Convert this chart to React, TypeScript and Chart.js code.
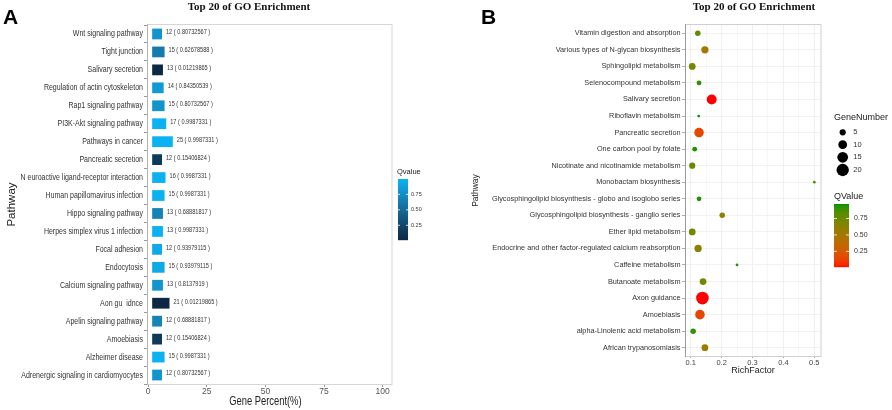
import React, { useEffect, useRef } from "react";
import { Chart, registerables } from "chart.js";
Chart.register(...registerables);

// ---------------- Panel A data ----------------
const pathwaysA = [
  "Wnt signaling pathway",
  "Tight junction",
  "Salivary secretion",
  "Regulation of actin cytoskeleton",
  "Rap1 signaling pathway",
  "PI3K-Akt signaling pathway",
  "Pathways in cancer",
  "Pancreatic secretion",
  "N euroactive ligand-receptor interaction",
  "Human papillomavirus infection",
  "Hippo signaling pathway",
  "Herpes simplex virus 1 infection",
  "Focal adhesion",
  "Endocytosis",
  "Calcium signaling pathway",
  "Aon gu  idnce",
  "Apelin signaling pathway",
  "Amoebiasis",
  "Alzheimer disease",
  "Adrenergic signaling in cardiomyocytes",
];
const geneCountA = [12, 15, 13, 14, 15, 17, 25, 12, 16, 15, 13, 13, 12, 15, 13, 21, 12, 12, 15, 12];
const genePercentA = [5.9, 7.0, 6.3, 6.6, 7.0, 7.7, 10.5, 5.9, 7.4, 7.0, 6.3, 6.3, 5.9, 7.0, 6.3, 9.1, 5.9, 5.9, 7.0, 5.9];
const qValueA = [
  0.80732567, 0.62678588, 0.01219865, 0.84350539, 0.80732567, 0.9987331, 0.9987331, 0.15406824,
  0.9987331, 0.9987331, 0.68881817, 0.9987331, 0.93979115, 0.93979115, 0.8137919, 0.01219865,
  0.68881817, 0.15406824, 0.9987331, 0.80732567,
];
const xTickStepA = 25;
const qLegendTicks = [0.25, 0.5, 0.75];

// ---------------- Panel B data ----------------
const pathwaysB = [
  "Vitamin digestion and absorption",
  "Various types of N-glycan biosynthesis",
  "Sphingolipid metabolism",
  "Selenocompound metabolism",
  "Salivary secretion",
  "Riboflavin metabolism",
  "Pancreatic secretion",
  "One carbon pool by folate",
  "Nicotinate and nicotinamide metabolism",
  "Monobactam biosynthesis",
  "Glycosphingolipid biosynthesis - globo and isoglobo series",
  "Glycosphingolipid biosynthesis - ganglio series",
  "Ether lipid metabolism",
  "Endocrine and other factor-regulated calcium reabsorption",
  "Caffeine metabolism",
  "Butanoate metabolism",
  "Axon guidance",
  "Amoebiasis",
  "alpha-Linolenic acid metabolism",
  "African trypanosomiasis",
];
const richFactorB = [0.123, 0.146, 0.105, 0.127, 0.168, 0.126, 0.127, 0.113, 0.105, 0.5, 0.127, 0.202, 0.105, 0.124, 0.25, 0.14, 0.138, 0.13, 0.108, 0.146];
const geneNumberB = [4, 7, 6, 3, 13, 1, 12, 3, 5, 1, 3, 4, 6, 7, 1, 6, 21, 12, 4, 6];
const qValueB = [0.8, 0.52, 0.72, 0.93, 0.01219865, 0.97, 0.15406824, 0.95, 0.78, 0.85, 0.95, 0.6, 0.74, 0.64, 0.95, 0.74, 0.01219865, 0.15406824, 0.92, 0.56];
const sizeLegendB = [5, 10, 15, 20];
const xTickStepB = 0.05;

// ---------------- colour helpers (Lab interpolation like ggplot) ----------------
function hexToRgb(h: string) {
  const n = parseInt(h.slice(1), 16);
  return [(n >> 16) & 255, (n >> 8) & 255, n & 255];
}
const toLin = (c: number) => { c /= 255; return c <= 0.04045 ? c / 12.92 : Math.pow((c + 0.055) / 1.055, 2.4); };
const toS = (c: number) => {
  const v = c <= 0.0031308 ? 12.92 * c : 1.055 * Math.pow(Math.max(c, 0), 1 / 2.4) - 0.055;
  return Math.max(0, Math.min(255, Math.round(v * 255)));
};
const Wn = [0.95047, 1, 1.08883];
function rgbToLab(rgb: number[]) {
  const [r, g, b] = rgb.map(toLin);
  const X = 0.4124 * r + 0.3576 * g + 0.1805 * b;
  const Y = 0.2126 * r + 0.7152 * g + 0.0722 * b;
  const Z = 0.0193 * r + 0.1192 * g + 0.9505 * b;
  const f = (t: number) => (t > 0.008856 ? Math.cbrt(t) : 7.787 * t + 16 / 116);
  const fx = f(X / Wn[0]), fy = f(Y / Wn[1]), fz = f(Z / Wn[2]);
  return [116 * fy - 16, 500 * (fx - fy), 200 * (fy - fz)];
}
function labToRgb(lab: number[]) {
  const [L, a, b] = lab;
  const fy = (L + 16) / 116, fx = a / 500 + fy, fz = fy - b / 200;
  const inv = (f: number) => (f * f * f > 0.008856 ? f * f * f : (f - 16 / 116) / 7.787);
  const X = inv(fx) * Wn[0], Y = inv(fy) * Wn[1], Z = inv(fz) * Wn[2];
  const r = 3.2406 * X - 1.5372 * Y - 0.4986 * Z;
  const g = -0.9689 * X + 1.8758 * Y + 0.0415 * Z;
  const bb = 0.0557 * X - 0.204 * Y + 1.057 * Z;
  return `rgb(${toS(r)},${toS(g)},${toS(bb)})`;
}
function makeRamp(low: string, high: string, vmin: number, vmax: number) {
  const l1 = rgbToLab(hexToRgb(low)), l2 = rgbToLab(hexToRgb(high));
  return (v: number) => {
    const t = Math.max(0, Math.min(1, (v - vmin) / (vmax - vmin)));
    return labToRgb([0, 1, 2].map((k) => l1[k] + (l2[k] - l1[k]) * t));
  };
}
const qMinA = Math.min(...qValueA), qMaxA = Math.max(...qValueA);
const rampA = makeRamp("#0D2843", "#0BB2F2", qMinA, qMaxA);
const qMinB = Math.min(...qValueB), qMaxB = Math.max(...qValueB);
const rampB = makeRamp("#FF0000", "#009400", qMinB, qMaxB);
const sizeToRadius = (n: number) => 1.38 * Math.sqrt(n);

const FONT = '"Liberation Sans", Arial, Helvetica, sans-serif';
const SERIF = '"Liberation Serif", "Times New Roman", serif';
Chart.defaults.font.family = FONT;

function drawColorbar(ctx: CanvasRenderingContext2D, ramp: (v: number) => string, vmin: number, vmax: number,
  x0: number, y0: number, w: number, h: number, labelX: number, fontPx: number) {
  for (let i = 0; i < h; i++) {
    const v = vmax - (i / h) * (vmax - vmin);
    ctx.fillStyle = ramp(v);
    ctx.fillRect(x0, y0 + i, w, 1.2);
  }
  ctx.font = `${fontPx}px ${FONT}`;
  ctx.textAlign = "left";
  ctx.textBaseline = "middle";
  qLegendTicks.forEach((t) => {
    const py = y0 + ((vmax - t) / (vmax - vmin)) * h;
    ctx.strokeStyle = "#ffffff";
    ctx.lineWidth = 0.8;
    ctx.beginPath();
    ctx.moveTo(x0, py); ctx.lineTo(x0 + w * 0.2, py);
    ctx.moveTo(x0 + w * 0.8, py); ctx.lineTo(x0 + w, py);
    ctx.stroke();
    ctx.fillStyle = "#333";
    ctx.fillText(t.toFixed(2), labelX, py);
  });
}

const panelAPlugin = {
  id: "panelA",
  afterDraw(chart: any) {
    const { ctx, chartArea: ca, scales } = chart;
    const y = scales.y, x = scales.x;
    ctx.save();
    // panel border
    ctx.strokeStyle = "#d6d6d6";
    ctx.lineWidth = 1;
    ctx.strokeRect(ca.left + 0.5, ca.top - 0.5, ca.right - ca.left - 0.5, ca.bottom - ca.top + 1);
    ctx.strokeStyle = "#b4b4b4";
    ctx.beginPath();
    ctx.moveTo(ca.left + 0.5, ca.top - 1);
    ctx.lineTo(ca.left + 0.5, ca.bottom + 1);
    ctx.stroke();
    // y labels (narrow)
    ctx.fillStyle = "#333";
    ctx.font = `9px ${FONT}`;
    ctx.textAlign = "right";
    ctx.textBaseline = "middle";
    pathwaysA.forEach((name, i) => {
      const py = y.getPixelForValue(i);
      ctx.save();
      ctx.translate(ca.left - 4, py);
      ctx.scale(0.78, 1);
      ctx.fillText(name, 0, 0);
      ctx.restore();
    });
    // value labels
    const meta = chart.getDatasetMeta(0);
    ctx.font = `7px ${FONT}`;
    ctx.textAlign = "left";
    meta.data.forEach((bar: any, i: number) => {
      ctx.save();
      ctx.translate(bar.x + 4, bar.y - 1.5);
      ctx.scale(0.8, 1);
      ctx.fillText(`${geneCountA[i]} ( ${qValueA[i]} )`, 0, 0);
      ctx.restore();
    });
    // x title
    ctx.fillStyle = "#222";
    ctx.font = `12px ${FONT}`;
    ctx.textAlign = "center";
    ctx.save();
    ctx.translate(x.getPixelForValue(50), 401.5);
    ctx.scale(0.78, 1);
    ctx.fillText("Gene Percent(%)", 0, 0);
    ctx.restore();
    // title
    ctx.fillStyle = "#111";
    ctx.font = `bold 11px ${SERIF}`;
    ctx.textAlign = "center";
    ctx.fillText("Top 20 of GO Enrichment", 249, 7);
    // panel letter
    ctx.fillStyle = "#000";
    ctx.font = `bold 21px ${FONT}`;
    ctx.textAlign = "left";
    ctx.textBaseline = "alphabetic";
    ctx.fillText("A", 3, 23.5);
    // colour legend
    ctx.fillStyle = "#222";
    ctx.font = `7.5px ${FONT}`;
    ctx.textBaseline = "middle";
    ctx.fillText("Qvalue", 397, 172);
    drawColorbar(ctx, rampA, qMinA, qMaxA, 398, 179, 10, 61, 411, 5.5);
    ctx.restore();
  },
};

const panelBPlugin = {
  id: "panelB",
  afterDraw(chart: any) {
    const { ctx, chartArea: ca } = chart;
    ctx.save();
    ctx.strokeStyle = "#d0d0d0";
    ctx.lineWidth = 1;
    ctx.strokeRect(ca.left + 0.5, ca.top - 0.5, ca.right - ca.left - 0.5, ca.bottom - ca.top + 1);
    ctx.strokeStyle = "#9a9a9a";
    ctx.beginPath();
    ctx.moveTo(ca.left + 0.5, ca.top - 1);
    ctx.lineTo(ca.left + 0.5, ca.bottom + 1);
    ctx.stroke();
    // title
    ctx.fillStyle = "#111";
    ctx.font = `bold 11px ${SERIF}`;
    ctx.textAlign = "center";
    ctx.textBaseline = "middle";
    ctx.fillText("Top 20 of GO Enrichment", 308, 7);
    // letter
    ctx.fillStyle = "#000";
    ctx.font = `bold 21px ${FONT}`;
    ctx.textAlign = "left";
    ctx.textBaseline = "alphabetic";
    ctx.fillText("B", 35, 24);
    // size legend
    ctx.fillStyle = "#222";
    ctx.font = `9px ${FONT}`;
    ctx.textBaseline = "middle";
    ctx.fillText("GeneNumber", 388, 118);
    const ys = [132.3, 144.7, 157.3, 170];
    sizeLegendB.forEach((n, i) => {
      ctx.fillStyle = "#000";
      ctx.beginPath();
      ctx.arc(396.7, ys[i], sizeToRadius(n), 0, Math.PI * 2);
      ctx.fill();
      ctx.fillStyle = "#333";
      ctx.font = `7.5px ${FONT}`;
      ctx.fillText(String(n), 407.3, ys[i]);
    });
    ctx.fillStyle = "#222";
    ctx.font = `9px ${FONT}`;
    ctx.fillText("QValue", 388, 196.7);
    drawColorbar(ctx, rampB, qMinB, qMaxB, 388, 204, 15, 63, 408, 7);
    ctx.restore();
  },
};

export default function App() {
  const refA = useRef<HTMLCanvasElement>(null);
  const refB = useRef<HTMLCanvasElement>(null);

  useEffect(() => {
    const chartA = new Chart(refA.current as HTMLCanvasElement, {
      type: "bar",
      data: {
        labels: pathwaysA,
        datasets: [
          {
            data: genePercentA,
            backgroundColor: qValueA.map(rampA),
            borderWidth: 0,
            barPercentage: 0.6,
            categoryPercentage: 1,
            base: 1.7,
          } as any,
        ],
      },
      options: {
        indexAxis: "y",
        responsive: false,
        animation: false,
        devicePixelRatio: 1,
        events: [],
        layout: { padding: { left: 0, top: 25, right: 54, bottom: 0 } },
        plugins: { legend: { display: false }, tooltip: { enabled: false } },
        scales: {
          y: {
            type: "category",
            offset: true,
            ticks: { display: false },
            grid: { display: true, drawOnChartArea: false, drawTicks: true, tickLength: 3, color: "#999" },
            border: { display: false },
            title: { display: true, text: "Pathway", font: { size: 11.5 }, color: "#222", padding: { top: 5, bottom: 0 } },
            afterFit: (s: any) => { s.width = 147; },
          },
          x: {
            type: "linear",
            min: -0.5,
            max: 104,
            ticks: { stepSize: xTickStepA, includeBounds: false, autoSkip: false, maxRotation: 0, font: { size: 8.5 }, color: "#555", padding: 0 },
            grid: { display: true, drawOnChartArea: false, drawTicks: true, tickLength: 3, color: "#999" },
            border: { display: false },
            afterFit: (s: any) => { s.height = 26; },
          },
        },
      } as any,
      plugins: [panelAPlugin],
    });

    const chartB = new Chart(refB.current as HTMLCanvasElement, {
      type: "scatter",
      data: {
        datasets: [
          {
            data: richFactorB.map((v, i) => ({ x: v, y: pathwaysB[i] })) as any,
            backgroundColor: qValueB.map(rampB),
            borderWidth: 0,
            pointRadius: geneNumberB.map(sizeToRadius),
          },
        ],
      },
      options: {
        responsive: false,
        animation: false,
        devicePixelRatio: 1,
        events: [],
        layout: { padding: { left: 0, top: 25, right: 71, bottom: 0 } },
        plugins: { legend: { display: false }, tooltip: { enabled: false } },
        scales: {
          y: {
            type: "category",
            labels: pathwaysB,
            offset: true,
            ticks: { autoSkip: false, font: { size: 7.3 }, color: "#333", padding: 1.5 },
            grid: { display: true, drawOnChartArea: true, offset: false, drawTicks: true, tickLength: 3, color: "#ececec", tickColor: "#888", lineWidth: 0.7 },
            border: { display: false },
            title: { display: true, text: "Pathway", font: { size: 8.5 }, color: "#222", padding: { top: 25, bottom: 0 } },
            afterFit: (s: any) => { s.width = 239; },
          },
          x: {
            type: "linear",
            min: 0.0816,
            max: 0.5216,
            ticks: {
              stepSize: xTickStepB,
              includeBounds: false,
              autoSkip: false,
              maxRotation: 0,
              font: { size: 7.5 },
              color: "#444",
              padding: 0,
              callback: (v: any) => {
                const n = Number(v);
                return Math.abs(n * 10 - Math.round(n * 10)) < 1e-6 ? n.toFixed(1) : "";
              },
            },
            grid: {
              display: true,
              drawOnChartArea: true,
              drawTicks: true,
              tickLength: 2,
              color: "#ececec",
              lineWidth: (c: any) => {
                const n = c.tick ? Number(c.tick.value) : 0;
                return Math.abs(n * 10 - Math.round(n * 10)) < 1e-6 ? 0.8 : 0.5;
              },
              tickColor: (c: any) => {
                const n = c.tick ? Number(c.tick.value) : 0;
                return Math.abs(n * 10 - Math.round(n * 10)) < 1e-6 ? "#888" : "rgba(0,0,0,0)";
              },
            },
            border: { display: false },
            title: { display: true, text: "RichFactor", font: { size: 9 }, color: "#222", padding: { top: 0, bottom: 33.6 } },
            afterFit: (s: any) => { s.height = 54; },
          },
        },
      } as any,
      plugins: [panelBPlugin],
    });

    return () => {
      chartA.destroy();
      chartB.destroy();
    };
  }, []);

  return (
    <div style={{ position: "absolute", left: 0, top: 0, width: 892, height: 410, background: "#fff", overflow: "hidden" }}>
      <canvas ref={refA} width={446} height={410} style={{ position: "absolute", left: 0, top: 0, width: 446, height: 410 }} />
      <canvas ref={refB} width={446} height={410} style={{ position: "absolute", left: 446, top: 0, width: 446, height: 410 }} />
    </div>
  );
}
